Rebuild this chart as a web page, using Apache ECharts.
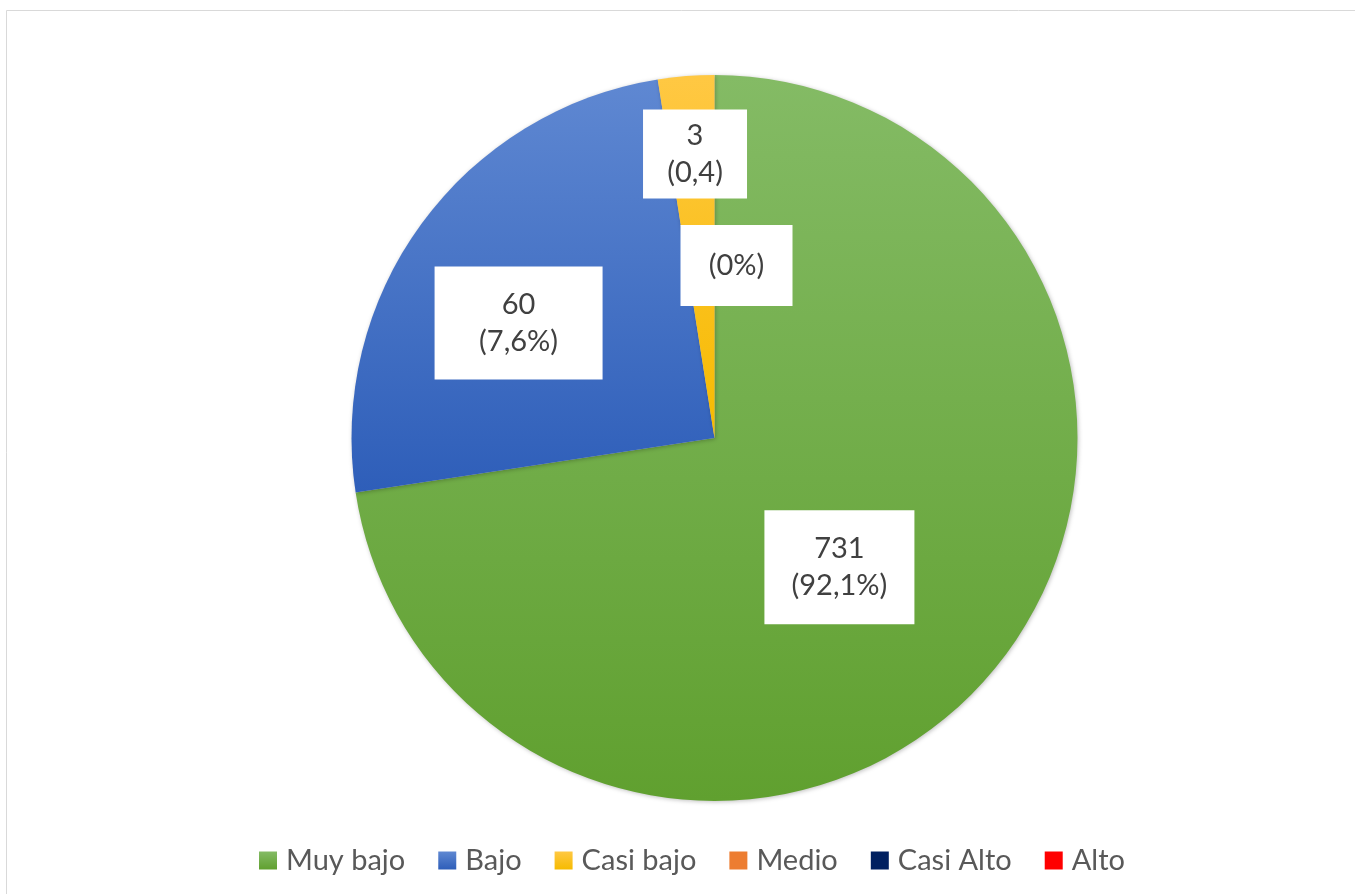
<!DOCTYPE html>
<html>
<head>
<meta charset="utf-8">
<style>html,body{margin:0;padding:0;background:#fff;}#c{width:1355px;height:894px;}</style>
<script src="https://cdn.jsdelivr.net/npm/echarts@6/dist/echarts.min.js"></script>
</head>
<body>
<div id="c"></div>
<script>
// Categories and values
var categories = ['Muy bajo', 'Bajo', 'Casi bajo', 'Medio', 'Casi Alto', 'Alto'];
// slice shares as drawn in the picture (angular share, %)
var sliceShares = [72.6, 24.9, 2.5, 0, 0, 0];
// label texts shown on the chart
var countLabels = ['731', '60', '3', '', '', ''];
var pctLabels = ['(92,1%)', '(7,6%)', '(0,4)', '(0%)', '', ''];

var colorsTop = ['#84bb65', '#5f88d2', '#ffc843', '#ed7d31', '#002060', '#ff0000'];
var colorsBottom = ['#60a02f', '#2e5eb9', '#f6bb00', '#ed7d31', '#002060', '#ff0000'];

// label box styling / nudges
var labelBox = [
  {w: 150, h: 114, dx: -15, dy: 9},
  {w: 168, h: 113, dx: -47, dy: -6},
  {w: 104, h: 89, dx: -5, dy: -100},
  {w: 112, h: 81, dx: 22, dy: 12},
  null, null
];

var data = categories.map(function (name, i) {
  var b = labelBox[i];
  var item = {
    name: name,
    value: sliceShares[i],
    itemStyle: {
      color: {
        type: 'linear', x: 0, y: 0, x2: 0, y2: 1,
        colorStops: [{offset: 0, color: colorsTop[i]}, {offset: 1, color: colorsBottom[i]}]
      }
    }
  };
  if (b) {
    item.label = {show: true, width: b.w, height: b.h};
  } else {
    item.label = {show: false};
  }
  return item;
});

var chart = echarts.init(document.getElementById('c'));
chart.setOption({
  animation: false,
  backgroundColor: '#fff',
  graphic: [{
    type: 'rect', silent: true,
    shape: {x: 6.5, y: 10.5, width: 1400, height: 1000},
    style: {fill: 'none', stroke: '#d9d9d9', lineWidth: 1}
  }],
  legend: {
    data: categories,
    left: 259,
    top: 846,
    padding: 0,
    icon: 'rect',
    itemWidth: 18,
    itemHeight: 18,
    itemGap: 33,
    textStyle: {fontFamily: 'Lato', fontSize: 29, color: '#595959', padding: [0, 0, 0, 4]}
  },
  series: [{
    type: 'pie',
    center: [714.5, 438],
    radius: [0, 363],
    startAngle: 90,
    clockwise: true,
    avoidLabelOverlap: false,
    minShowLabelAngle: -1,
    itemStyle: {
      borderWidth: 0,
      shadowBlur: 4,
      shadowColor: 'rgba(0,0,0,0.25)',
      shadowOffsetX: 1,
      shadowOffsetY: 1
    },
    emphasis: {disabled: true},
    label: {
      show: true,
      position: 'inner',
      fontFamily: 'Lato',
      fontSize: 29,
      lineHeight: 37,
      color: '#404040',
      backgroundColor: '#ffffff',
      align: 'center',
      verticalAlign: 'middle',
      formatter: function (p) {
        var i = p.dataIndex;
        return countLabels[i] ? countLabels[i] + '\n' + pctLabels[i] : pctLabels[i];
      }
    },
    labelLine: {show: false},
    labelLayout: function (p) {
      var b = labelBox[p.dataIndex];
      return b ? {dx: b.dx, dy: b.dy} : {};
    },
    data: data
  }]
});
</script>
</body>
</html>
